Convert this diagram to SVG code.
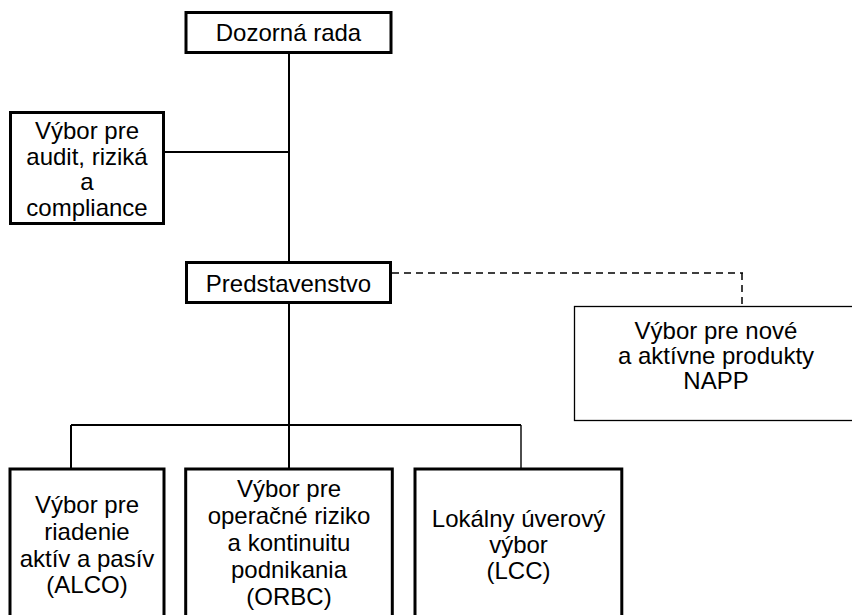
<svg xmlns="http://www.w3.org/2000/svg" width="852" height="615" viewBox="0 0 852 615">
<style>
.box{fill:#fff;stroke:#000;stroke-width:3}
.thin{fill:#fff;stroke:#000;stroke-width:1.3}
.t{font-family:"Liberation Sans",Arial,sans-serif;font-size:24px;fill:#000;text-anchor:middle}
.c{stroke:#000;stroke-width:2;fill:none}
.d{stroke:#000;stroke-width:1.5;fill:none;stroke-dasharray:7 5}
</style>
<rect width="852" height="615" fill="#fff"/>
<g id="connectors">
<path class="c" d="M289 52V262M165 152H289M289 304V469M71 425H521M71 425V469"/>
<path class="c" style="stroke-width:1.4" d="M521 425V469"/>
<path class="d" d="M392 273H743M742 273V306"/>
</g>
<g id="dozorna">
<rect class="box" x="186" y="12.5" width="205" height="40"/>
<text class="t" x="288.5" y="41">Dozorná rada</text>
</g>
<g id="audit">
<rect class="box" x="10.5" y="112.5" width="153" height="111"/>
<text class="t" x="87" y="139">Výbor pre</text>
<text class="t" x="87" y="164.5">audit, riziká</text>
<text class="t" x="87" y="190">a</text>
<text class="t" x="87" y="215.5">compliance</text>
</g>
<g id="predstavenstvo">
<rect class="box" x="186.5" y="262.5" width="204" height="40"/>
<text class="t" x="288.5" y="291.5">Predstavenstvo</text>
</g>
<g id="napp">
<rect class="thin" x="574.5" y="306.5" width="290" height="114"/>
<text class="t" x="716" y="339">Výbor pre nové</text>
<text class="t" x="716" y="364">a aktívne produkty</text>
<text class="t" x="716" y="389">NAPP</text>
</g>
<g id="alco">
<rect class="box" x="10" y="469" width="154" height="200"/>
<text class="t" x="87" y="513">Výbor pre</text>
<text class="t" x="87" y="540">riadenie</text>
<text class="t" x="87" y="566.5">aktív a pasív</text>
<text class="t" x="87" y="593">(ALCO)</text>
</g>
<g id="orbc">
<rect class="box" x="185.7" y="469" width="206.6" height="200"/>
<text class="t" x="289" y="497">Výbor pre</text>
<text class="t" x="289" y="524">operačné riziko</text>
<text class="t" x="289" y="551">a kontinuitu</text>
<text class="t" x="289" y="578">podnikania</text>
<text class="t" x="289" y="605">(ORBC)</text>
</g>
<g id="lcc">
<rect class="box" x="415" y="469" width="206.8" height="200"/>
<text class="t" x="518.5" y="527">Lokálny úverový</text>
<text class="t" x="518.5" y="553">výbor</text>
<text class="t" x="518.5" y="579">(LCC)</text>
</g>
</svg>
